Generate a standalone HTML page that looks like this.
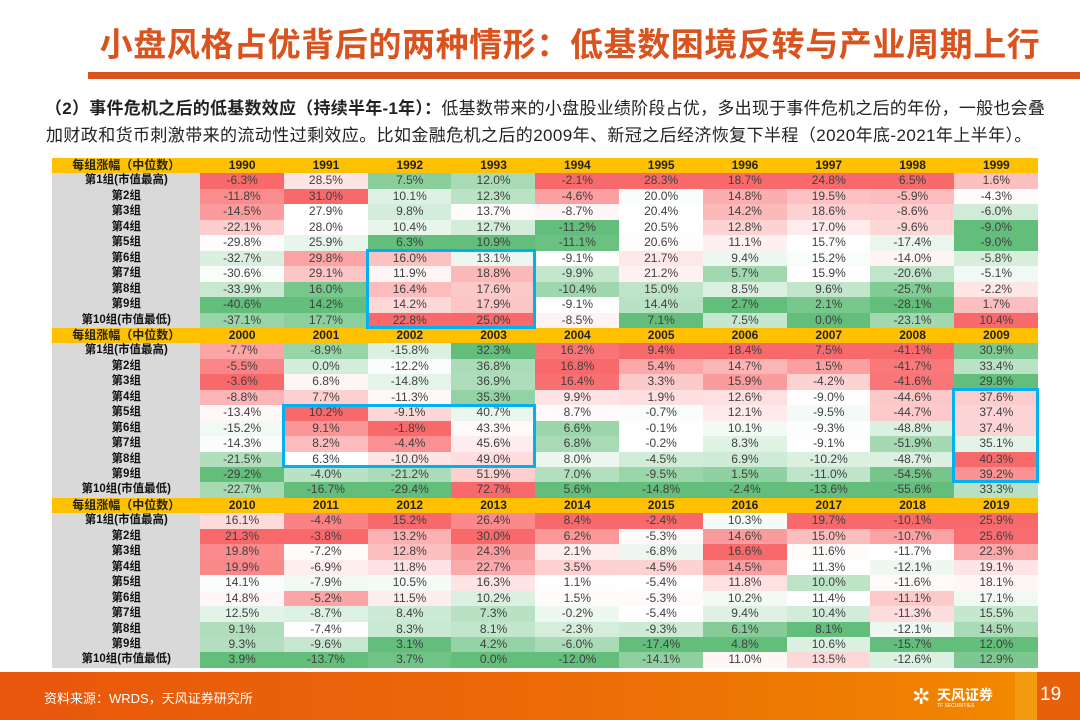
<!DOCTYPE html>
<html><head><meta charset="utf-8">
<style>
html,body{margin:0;padding:0;}
body{width:1080px;height:720px;position:relative;overflow:hidden;background:#fff;font-family:"Liberation Sans","Noto Sans CJK SC",sans-serif;}
.title{position:absolute;left:60px;width:1020px;top:18px;text-align:center;font-size:33px;font-weight:bold;color:#D9531E;letter-spacing:0.6px;white-space:nowrap;font-family:"Liberation Sans","Noto Sans CJK SC",sans-serif;}
.bar{position:absolute;left:88px;right:0;top:72px;height:7px;background:#D9531E;}
.p{position:absolute;left:45px;font-size:17px;color:#222;white-space:nowrap;letter-spacing:0.25px;}
.c{position:absolute;height:16.2px;line-height:15.45px;text-align:center;font-size:12px;color:#404040;overflow:hidden;}
.lab{background:#D9D9D9;font-weight:bold;color:#111;font-size:11.5px;}
.hd{background:#FFC000;font-weight:bold;color:#222;}
.box{position:absolute;border:3px solid #00B0F0;box-sizing:border-box;}
.foot{position:absolute;left:0;top:672px;width:1080px;height:48px;background:linear-gradient(90deg,#E8560C 0%,#EC6A08 50%,#F08400 90%,#F59300 100%);}
</style></head><body>
<div class="title">小盘风格占优背后的两种情形：低基数困境反转与产业周期上行</div>
<div class="bar"></div>
<div class="p" style="top:94px"><b>（2）事件危机之后的低基数效应（持续半年-1年）：</b>低基数带来的小盘股业绩阶段占优，多出现于事件危机之后的年份，一般也会叠</div>
<div class="p" style="top:121px;left:46px;letter-spacing:0.4px">加财政和货币刺激带来的流动性过剩效应。比如金融危机之后的2009年、新冠之后经济恢复下半程（2020年底-2021年上半年）。</div>
<div id="t"></div>
<div class="box" style="left:366px;top:249px;width:170px;height:80px"></div>
<div class="box" style="left:282px;top:404px;width:254px;height:64px"></div>
<div class="box" style="left:952px;top:388px;width:87px;height:95px"></div>
<div class="foot">
<div style="position:absolute;left:44px;top:16px;color:#fff;font-size:13px;">资料来源：WRDS，天风证券研究所</div>
<div style="position:absolute;left:912px;top:12px;width:22px;height:26px;color:#fff;font-size:22px;line-height:26px;">✲</div>
<div style="position:absolute;left:937px;top:13px;color:#fff;font-size:14px;font-weight:bold;">天风证券</div>
<div style="position:absolute;left:937px;top:31px;color:#fff;font-size:5px;">TF SECURITIES</div>
<div style="position:absolute;left:1015px;top:0;width:22px;height:48px;background:#F29A10;"></div>
<div style="position:absolute;left:1037px;top:0;width:43px;height:48px;background:#E8600A;"></div>
<div style="position:absolute;left:1040px;top:12px;color:#fff;font-size:19px;">19</div>
</div>
<script>
var D=[
[1990,[-6.3,-11.8,-14.5,-22.1,-29.8,-32.7,-30.6,-33.9,-40.6,-37.1]],
[1991,[28.5,31.0,27.9,28.0,25.9,29.8,29.1,16.0,14.2,17.7]],
[1992,[7.5,10.1,9.8,10.4,6.3,16.0,11.9,16.4,14.2,22.8]],
[1993,[12.0,12.3,13.7,12.7,10.9,13.1,18.8,17.6,17.9,25.0]],
[1994,[-2.1,-4.6,-8.7,-11.2,-11.1,-9.1,-9.9,-10.4,-9.1,-8.5]],
[1995,[28.3,20.0,20.4,20.5,20.6,21.7,21.2,15.0,14.4,7.1]],
[1996,[18.7,14.8,14.2,12.8,11.1,9.4,5.7,8.5,2.7,7.5]],
[1997,[24.8,19.5,18.6,17.0,15.7,15.2,15.9,9.6,2.1,0.0]],
[1998,[6.5,-5.9,-8.6,-9.6,-17.4,-14.0,-20.6,-25.7,-28.1,-23.1]],
[1999,[1.6,-4.3,-6.0,-9.0,-9.0,-5.8,-5.1,-2.2,1.7,10.4]],
[2000,[-7.7,-5.5,-3.6,-8.8,-13.4,-15.2,-14.3,-21.5,-29.2,-22.7]],
[2001,[-8.9,0.0,6.8,7.7,10.2,9.1,8.2,6.3,-4.0,-16.7]],
[2002,[-15.8,-12.2,-14.8,-11.3,-9.1,-1.8,-4.4,-10.0,-21.2,-29.4]],
[2003,[32.3,36.8,36.9,35.3,40.7,43.3,45.6,49.0,51.9,72.7]],
[2004,[16.2,16.8,16.4,9.9,8.7,6.6,6.8,8.0,7.0,5.6]],
[2005,[9.4,5.4,3.3,1.9,-0.7,-0.1,-0.2,-4.5,-9.5,-14.8]],
[2006,[18.4,14.7,15.9,12.6,12.1,10.1,8.3,6.9,1.5,-2.4]],
[2007,[7.5,1.5,-4.2,-9.0,-9.5,-9.3,-9.1,-10.2,-11.0,-13.6]],
[2008,[-41.1,-41.7,-41.6,-44.6,-44.7,-48.8,-51.9,-48.7,-54.5,-55.6]],
[2009,[30.9,33.4,29.8,37.6,37.4,37.4,35.1,40.3,39.2,33.3]],
[2010,[16.1,21.3,19.8,19.9,14.1,14.8,12.5,9.1,9.3,3.9]],
[2011,[-4.4,-3.8,-7.2,-6.9,-7.9,-5.2,-8.7,-7.4,-9.6,-13.7]],
[2012,[15.2,13.2,12.8,11.8,10.5,11.5,8.4,8.3,3.1,3.7]],
[2013,[26.4,30.0,24.3,22.7,16.3,10.2,7.3,8.1,4.2,0.0]],
[2014,[8.4,6.2,2.1,3.5,1.1,1.5,-0.2,-2.3,-6.0,-12.0]],
[2015,[-2.4,-5.3,-6.8,-4.5,-5.4,-5.3,-5.4,-9.3,-17.4,-14.1]],
[2016,[10.3,14.6,16.6,14.5,11.8,10.2,9.4,6.1,4.8,11.0]],
[2017,[19.7,15.0,11.6,11.3,10.0,11.4,10.4,8.1,10.6,13.5]],
[2018,[-10.1,-10.7,-11.7,-12.1,-11.6,-11.1,-11.3,-12.1,-15.7,-12.6]],
[2019,[25.9,25.6,22.3,19.1,18.1,17.1,15.5,14.5,12.0,12.9]]];
var L=["第1组(市值最高)","第2组","第3组","第4组","第5组","第6组","第7组","第8组","第9组","第10组(市值最低)"];
var T=document.getElementById('t'),h='',RH=15.45,TOP=158,X0=52,LW=148,CW=83.8;
function mix(a,b,t){return 'rgb('+[0,1,2].map(function(i){return Math.round(a[i]+(b[i]-a[i])*t)}).join(',')+')';}
var R=[248,105,107],G=[99,190,123],W=[255,255,255];
function cell(x,y,w,cls,txt,bg,last){h+='<div class="c '+cls+'" style="left:'+x+'px;top:'+y+'px;width:'+w+'px;'+(last?'height:15.45px;':'')+(bg?'background:'+bg:'')+'">'+txt+'</div>';}
for(var b=0;b<3;b++){
 var y0=TOP+b*11*RH;
 cell(X0,y0,LW+0.5,'hd','每组涨幅（中位数）');
 for(var r=0;r<10;r++) cell(X0,y0+(r+1)*RH,LW+0.5,'lab',L[r],null,b==2&&r==9);
 for(var c=0;c<10;c++){
  var d=D[b*10+c],v=d[1],x=X0+LW+c*CW;
  cell(x,y0,CW+0.5,'hd',d[0]);
  var s=v.slice().sort(function(a,b){return a-b}),mn=s[0],mx=s[9],md=(s[4]+s[5])/2;
  for(var r=0;r<10;r++){
   var val=v[r],bg;
   if(val>=md) bg=mix(W,R,mx==md?0:(val-md)/(mx-md)); else bg=mix(W,G,(md-val)/(md-mn));
   cell(x,y0+(r+1)*RH,CW+0.5,'',val.toFixed(1)+'%',bg,b==2&&r==9);
  }
 }
}
T.innerHTML=h;
</script>
</body></html>
